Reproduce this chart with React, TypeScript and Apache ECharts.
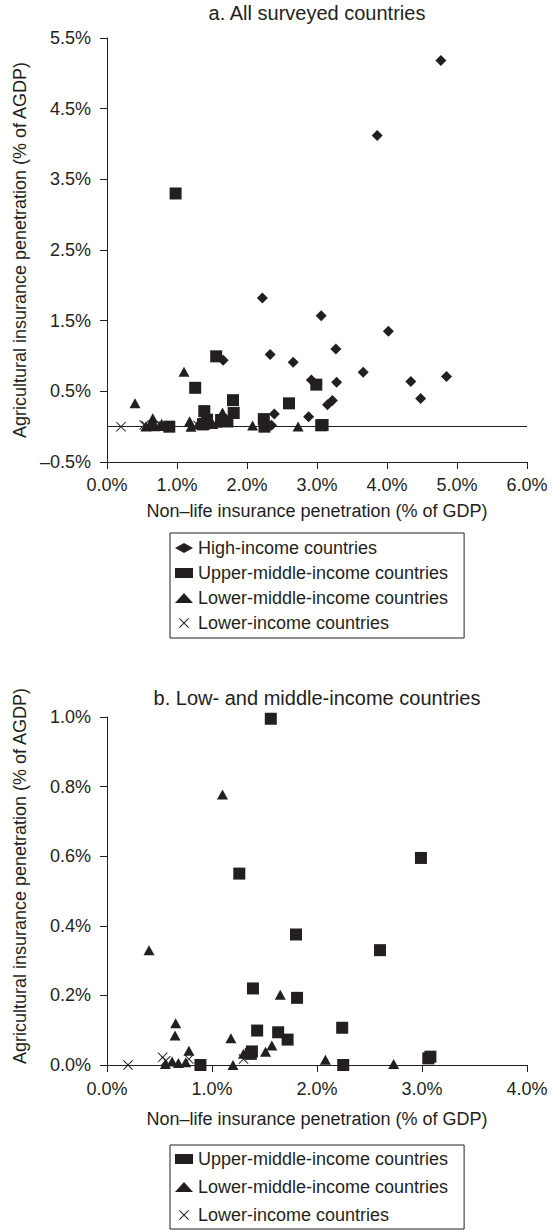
import React, { useEffect, useRef } from "react";
import * as echarts from "echarts";

// ---- Data (percent units) ----
const titleA = "a. All surveyed countries";
const titleB = "b. Low- and middle-income countries";
const xAxisName = "Non\u2013life insurance penetration (% of GDP)";
const yAxisName = "Agricultural insurance penetration (% of AGDP)";

const seriesNames = [
  "High-income countries",
  "Upper-middle-income countries",
  "Lower-middle-income countries",
  "Lower-income countries",
];

const highX = [4.77, 3.86, 2.22, 3.06, 4.02, 3.27, 2.33, 2.66, 1.66, 3.66, 4.85, 4.34, 3.28, 2.92, 4.48, 3.22, 3.15, 2.39, 2.88, 2.35];
const highY = [5.18, 4.12, 1.82, 1.57, 1.35, 1.10, 1.02, 0.91, 0.94, 0.77, 0.71, 0.64, 0.63, 0.66, 0.40, 0.37, 0.31, 0.18, 0.14, 0.02];

const upperMidX = [0.98, 1.56, 1.26, 2.99, 1.80, 2.60, 1.39, 1.81, 2.24, 1.43, 1.63, 1.72, 1.38, 1.37, 0.89, 2.25, 3.06, 3.08];
const upperMidY = [3.30, 0.995, 0.55, 0.595, 0.375, 0.33, 0.22, 0.193, 0.107, 0.099, 0.094, 0.073, 0.039, 0.032, 0.0, 0.0, 0.019, 0.024];

const lowerMidX = [0.40, 1.10, 1.65, 0.654, 0.648, 1.18, 1.57, 1.51, 1.30, 0.78, 0.556, 0.62, 0.68, 0.75, 1.20, 2.08, 2.73];
const lowerMidY = [0.33, 0.777, 0.202, 0.120, 0.085, 0.077, 0.056, 0.038, 0.032, 0.041, 0.003, 0.010, 0.006, 0.008, 0.0, 0.015, 0.003];

const lowX = [0.20, 0.53, 0.56, 0.78, 1.30];
const lowY = [0.0, 0.022, 0.012, 0.017, 0.017];

const xTicksA = [0, 1, 2, 3, 4, 5, 6];
const yTicksA = [-0.5, 0.5, 1.5, 2.5, 3.5, 4.5, 5.5];
const xTicksB = [0, 1, 2, 3, 4];
const yTicksB = [0, 0.2, 0.4, 0.6, 0.8, 1.0];

// ---- Styling ----
const INK = "#231f20";
const FONT = '"Liberation Sans", Arial, Helvetica, sans-serif';
const X_SYMBOL =
  "path://M0,0.7L0.7,0L5,4.3L9.3,0L10,0.7L5.7,5L10,9.3L9.3,10L5,5.7L0.7,10L0,9.3L4.3,5Z";

const pct = (v: number) => (v < 0 ? "\u2013" : "") + Math.abs(v).toFixed(1) + "%";
const zip = (xs: number[], ys: number[]) => xs.map((x, i) => [x, ys[i]]);

function axisX(gridIndex: number, ticks: number[], labelMargin: number, nameGap: number) {
  return {
    type: "value",
    gridIndex,
    min: ticks[0],
    max: ticks[ticks.length - 1],
    name: xAxisName,
    nameLocation: "middle",
    nameGap,
    nameTextStyle: { fontSize: 18, color: INK, fontFamily: FONT },
    axisLine: { show: true, onZero: false, lineStyle: { color: INK, width: 1 } },
    axisTick: { show: true, length: 7, customValues: ticks, lineStyle: { color: INK, width: 1 } },
    axisLabel: { customValues: ticks, formatter: pct, fontSize: 18, color: INK, fontFamily: FONT, margin: labelMargin },
    splitLine: { show: false },
  };
}

function axisY(gridIndex: number, ticks: number[], nameGap: number, nameShiftUp: number) {
  return {
    type: "value",
    gridIndex,
    min: ticks[0],
    max: ticks[ticks.length - 1],
    name: yAxisName,
    nameLocation: "middle",
    nameGap,
    nameTextStyle: {
      fontSize: 18,
      color: INK,
      fontFamily: FONT,
      padding: [0, 0, 0, nameShiftUp * 2],
    },
    axisLine: { show: true, onZero: false, lineStyle: { color: INK, width: 1 } },
    axisTick: { show: true, length: 7, customValues: ticks, lineStyle: { color: INK, width: 1 } },
    axisLabel: { customValues: ticks, formatter: pct, fontSize: 18, color: INK, fontFamily: FONT, margin: 16 },
    splitLine: { show: false },
  };
}

const symbolFor = [
  { symbol: "diamond", symbolSize: [11, 11] },
  { symbol: "rect", symbolSize: 12 },
  { symbol: "triangle", symbolSize: [11, 10] },
  { symbol: X_SYMBOL, symbolSize: 10 },
];

function scatter(kind: number, gridIdx: number, data: number[][], extra: any = {}) {
  return {
    type: "scatter",
    name: seriesNames[kind],
    xAxisIndex: gridIdx,
    yAxisIndex: gridIdx,
    data,
    symbol: symbolFor[kind].symbol,
    symbolSize: symbolFor[kind].symbolSize,
    itemStyle: { color: INK, opacity: 1 },
    emphasis: { disabled: true },
    silent: true,
    ...extra,
  };
}

function legend(top: number, names: string[], gap: number, pad: number) {
  return {
    show: true,
    orient: "vertical",
    left: 170,
    top,
    data: names,
    selectedMode: false,
    borderColor: INK,
    borderWidth: 1,
    padding: [pad, 16, pad, 5],
    itemGap: gap,
    itemWidth: 18,
    itemHeight: 10,
    textStyle: { fontSize: 18, color: INK, fontFamily: FONT },
  };
}

export default function App() {
  const ref = useRef<HTMLDivElement>(null);
  useEffect(() => {
    if (!ref.current) return;
    const chart = echarts.init(ref.current, null, { renderer: "svg" });
    const upperB = zip(upperMidX, upperMidY).filter((p) => p[1] <= yTicksB[yTicksB.length - 1]);
    const option: any = {
      animation: false,
      textStyle: { fontFamily: FONT, color: INK },
      grid: [
        { left: 107, top: 38, width: 420, height: 424, containLabel: false },
        { left: 107, top: 717, width: 420, height: 348, containLabel: false },
      ],
      xAxis: [axisX(0, xTicksA, 14, 40), axisX(1, xTicksB, 15, 45)],
      yAxis: [axisY(0, yTicksA, 78, 0), axisY(1, yTicksB, 78, 15)],
      legend: [
        legend(533, seriesNames, 7, 6),
        legend(1145, seriesNames.slice(1), 10, 5),
      ],
      graphic: [
        {
          type: "text",
          x: 317,
          y: 13,
          silent: true,
          style: {
            text: titleA,
            fontSize: 20,
            fontFamily: FONT,
            fill: INK,
            align: "center",
            verticalAlign: "middle",
            textAlign: "center",
            textVerticalAlign: "middle",
          },
        },
        {
          type: "text",
          x: 317,
          y: 698,
          silent: true,
          style: {
            text: titleB,
            fontSize: 20,
            fontFamily: FONT,
            fill: INK,
            align: "center",
            verticalAlign: "middle",
            textAlign: "center",
            textVerticalAlign: "middle",
          },
        },
      ],
      series: [
        scatter(0, 0, zip(highX, highY), {
          markLine: {
            silent: true,
            symbol: ["none", "none"],
            label: { show: false },
            lineStyle: { color: INK, width: 1, type: "solid" },
            emphasis: { disabled: true },
            data: [{ yAxis: 0 }],
          },
        }),
        scatter(1, 0, zip(upperMidX, upperMidY)),
        scatter(2, 0, zip(lowerMidX, lowerMidY)),
        scatter(3, 0, zip(lowX, lowY)),
        scatter(1, 1, upperB),
        scatter(2, 1, zip(lowerMidX, lowerMidY)),
        scatter(3, 1, zip(lowX, lowY)),
      ],
    };
    chart.setOption(option);
    return () => chart.dispose();
  }, []);
  return (
    <div
      ref={ref}
      style={{ position: "absolute", left: 0, top: 0, width: 557, height: 1230, background: "#fff" }}
    />
  );
}
